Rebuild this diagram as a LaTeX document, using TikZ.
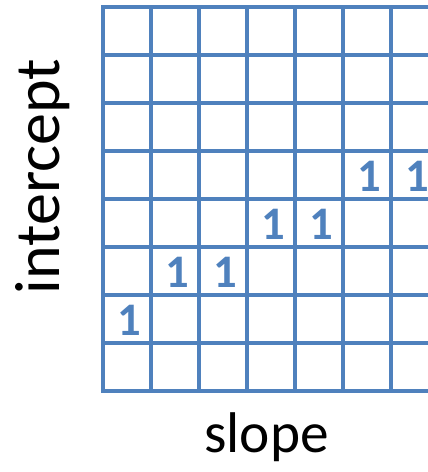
\documentclass[tikz,border=0pt]{standalone}
\usepackage{fontspec}
\setmainfont{Carlito}
\definecolor{gridblue}{RGB}{79,129,189}
\usetikzlibrary{positioning}

\begin{document}
\begin{tikzpicture}[x=0.75pt,y=0.75pt]

\useasboundingbox (0,0) rectangle (428,472);

% --- Grid ---
\begin{scope}
\clip (0,0) rectangle (428,472);
\foreach \r in {0,...,8}{
  \draw[gridblue, line width=2.5pt, line cap=rect] (103,81+48*\r) -- (440,81+48*\r);
}
\foreach \c in {0,...,7}{
  \draw[gridblue, line width=2.5pt, line cap=rect] (103+48*\c,81) -- (103+48*\c,465);
}

% --- Hits ---
\foreach \c/\r/\nm in {
  0/1/hitA,
  1/2/hitB,
  2/2/hitC,
  3/3/hitD,
  4/3/hitE,
  5/4/hitF,
  6/4/hitG
}{
  \node[gridblue, font=\bfseries\fontsize{35}{40}\selectfont, inner sep=0pt]
    (\nm) at (129+48*\c,103.5+48*\r) {1};
}
\end{scope}

% Labels
\node[font=\fontsize{48}{56}\selectfont, rotate=90, anchor=base, inner sep=0pt]
  (intercept) at (60,295.5) {intercept};
\node[font=\fontsize{43}{50}\selectfont, anchor=base, inner sep=0pt]
  (slope) at (266.5,20) {slope};

\end{tikzpicture}
\end{document}
